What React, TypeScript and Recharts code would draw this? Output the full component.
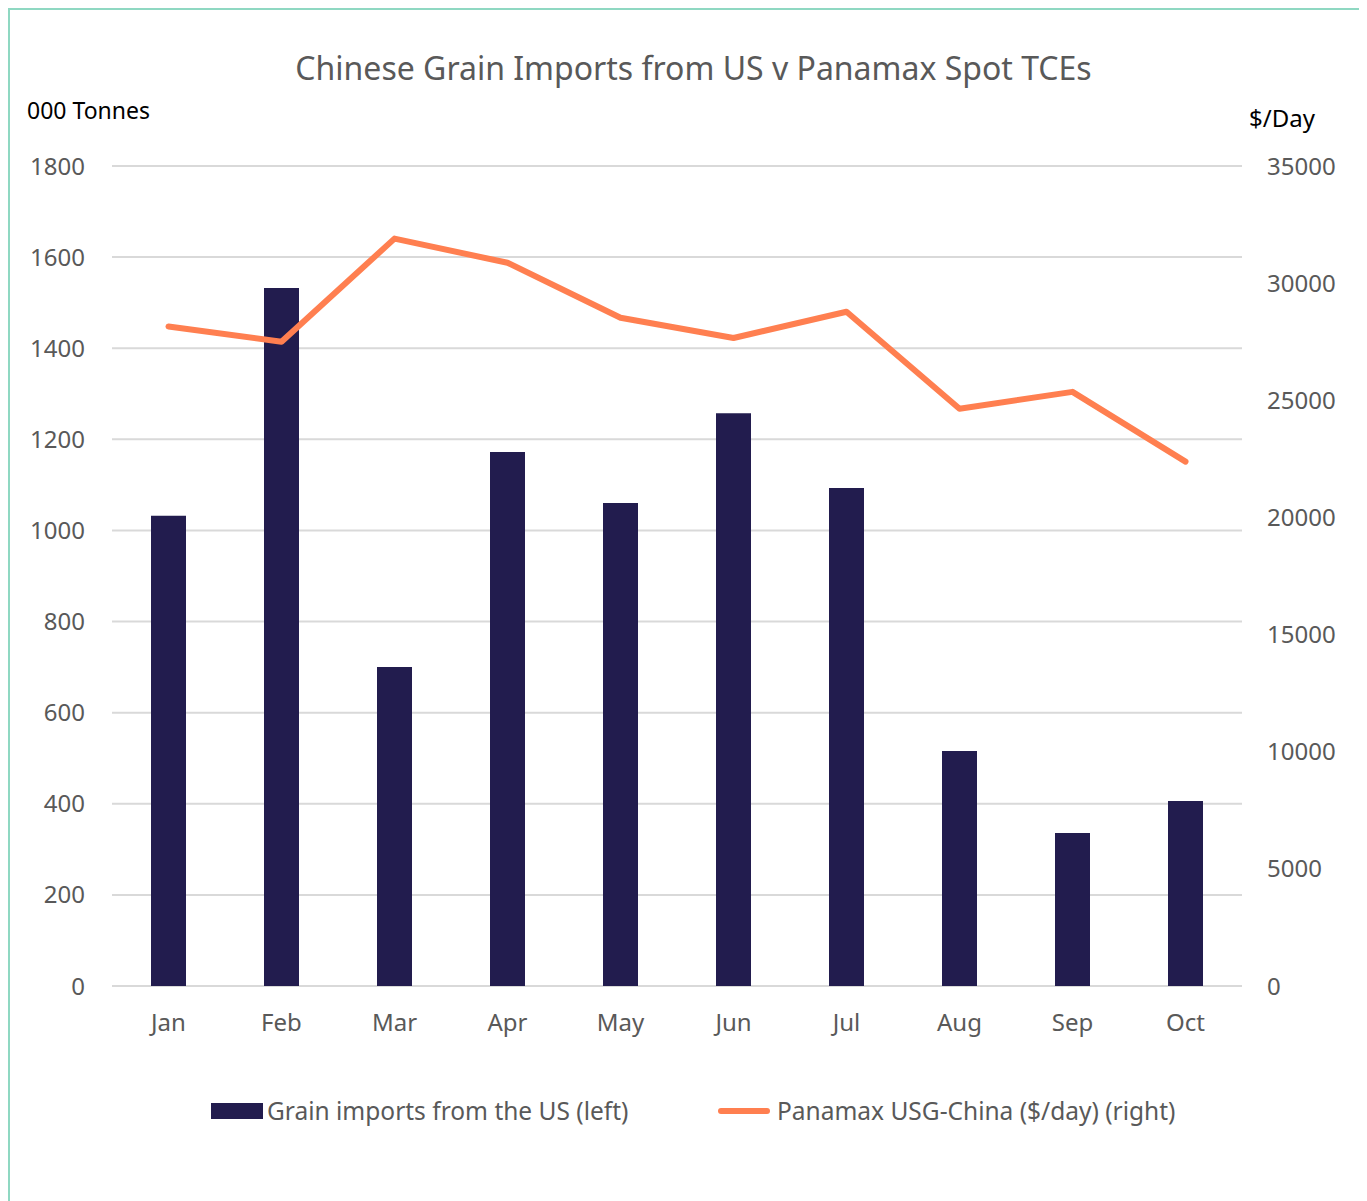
import React from 'react';
import { ComposedChart, Bar, Line, XAxis, YAxis, CartesianGrid } from 'recharts';

const MONTHS = ['Jan', 'Feb', 'Mar', 'Apr', 'May', 'Jun', 'Jul', 'Aug', 'Sep', 'Oct'];
const GRAIN_IMPORTS = [1032, 1532, 700, 1172, 1060, 1257, 1093, 516, 336, 406];
const PANAMAX_TCE = [28150, 27500, 31900, 30870, 28520, 27660, 28780, 24640, 25360, 22380];
const LEFT_TICKS = [0, 200, 400, 600, 800, 1000, 1200, 1400, 1600, 1800];
const RIGHT_TICKS = [0, 5000, 10000, 15000, 20000, 25000, 30000, 35000];

const BAR_COLOR = '#221C4E';
const LINE_COLOR = '#FF7F50';
const TEXT_GREY = '#595959';
const FONT = '"Noto Sans", "Open Sans", sans-serif';

const data = MONTHS.map((m, i) => ({ month: m, grain: GRAIN_IMPORTS[i], tce: PANAMAX_TCE[i] }));

const tickStyle = { fill: TEXT_GREY, fontSize: 24, fontFamily: FONT };

const App: React.FC = () => {
  return (
    <div style={{ position: 'relative', width: 1367, height: 1201, margin: '-8px 0 0 -8px', background: '#fff', overflow: 'hidden', fontFamily: FONT }}>
      <div style={{ position: 'absolute', left: 8, top: 8, width: 1354, height: 1210, boxSizing: 'border-box', border: '2px solid #8FD8C2' }} />

      <div style={{ position: 'absolute', left: 0, width: 1387, top: 46, textAlign: 'center', fontSize: 32, color: TEXT_GREY }}>
        Chinese Grain Imports from US v Panamax Spot TCEs
      </div>
      <div style={{ position: 'absolute', left: 27, top: 94, fontSize: 23, color: '#000' }}>000 Tonnes</div>
      <div style={{ position: 'absolute', left: 1249, top: 101, fontSize: 24, color: '#000' }}>$/Day</div>

      <div style={{ position: 'absolute', left: 0, top: 0 }}>
        <ComposedChart width={1367} height={1201} data={data} margin={{ top: 166, right: 0, bottom: 155, left: 0 }}>
          <CartesianGrid yAxisId="left" vertical={false} stroke="#D9D9D9" strokeWidth={2} />
          <XAxis dataKey="month" height={60} axisLine={false} tickLine={false} tickSize={0} tickMargin={28} tick={tickStyle} interval={0} />
          <YAxis yAxisId="left" orientation="left" width={112} domain={[0, 1800]} ticks={LEFT_TICKS}
            axisLine={false} tickLine={false} tickSize={0} tickMargin={27} tick={tickStyle} />
          <YAxis yAxisId="right" orientation="right" width={125} domain={[0, 35000]} ticks={RIGHT_TICKS}
            axisLine={false} tickLine={false} tickSize={0} tickMargin={25} tick={tickStyle} />
          <Bar yAxisId="left" dataKey="grain" fill={BAR_COLOR} barSize={35} isAnimationActive={false} />
          <Line yAxisId="right" dataKey="tce" stroke={LINE_COLOR} strokeWidth={6} dot={false}
            strokeLinecap="round" strokeLinejoin="round" type="linear" isAnimationActive={false} />
        </ComposedChart>
      </div>

      <div style={{ position: 'absolute', left: 211, top: 1094, display: 'flex', alignItems: 'center', fontSize: 24.5, color: TEXT_GREY }}>
        <div style={{ width: 52, height: 16, background: BAR_COLOR, marginRight: 4 }} />
        <span>Grain imports from the US (left)</span>
      </div>
      <div style={{ position: 'absolute', left: 718, top: 1094, display: 'flex', alignItems: 'center', fontSize: 24.5, color: TEXT_GREY }}>
        <div style={{ width: 52, height: 6, borderRadius: 3, background: LINE_COLOR, marginRight: 7 }} />
        <span>Panamax USG-China ($/day) (right)</span>
      </div>
    </div>
  );
};

export default App;
